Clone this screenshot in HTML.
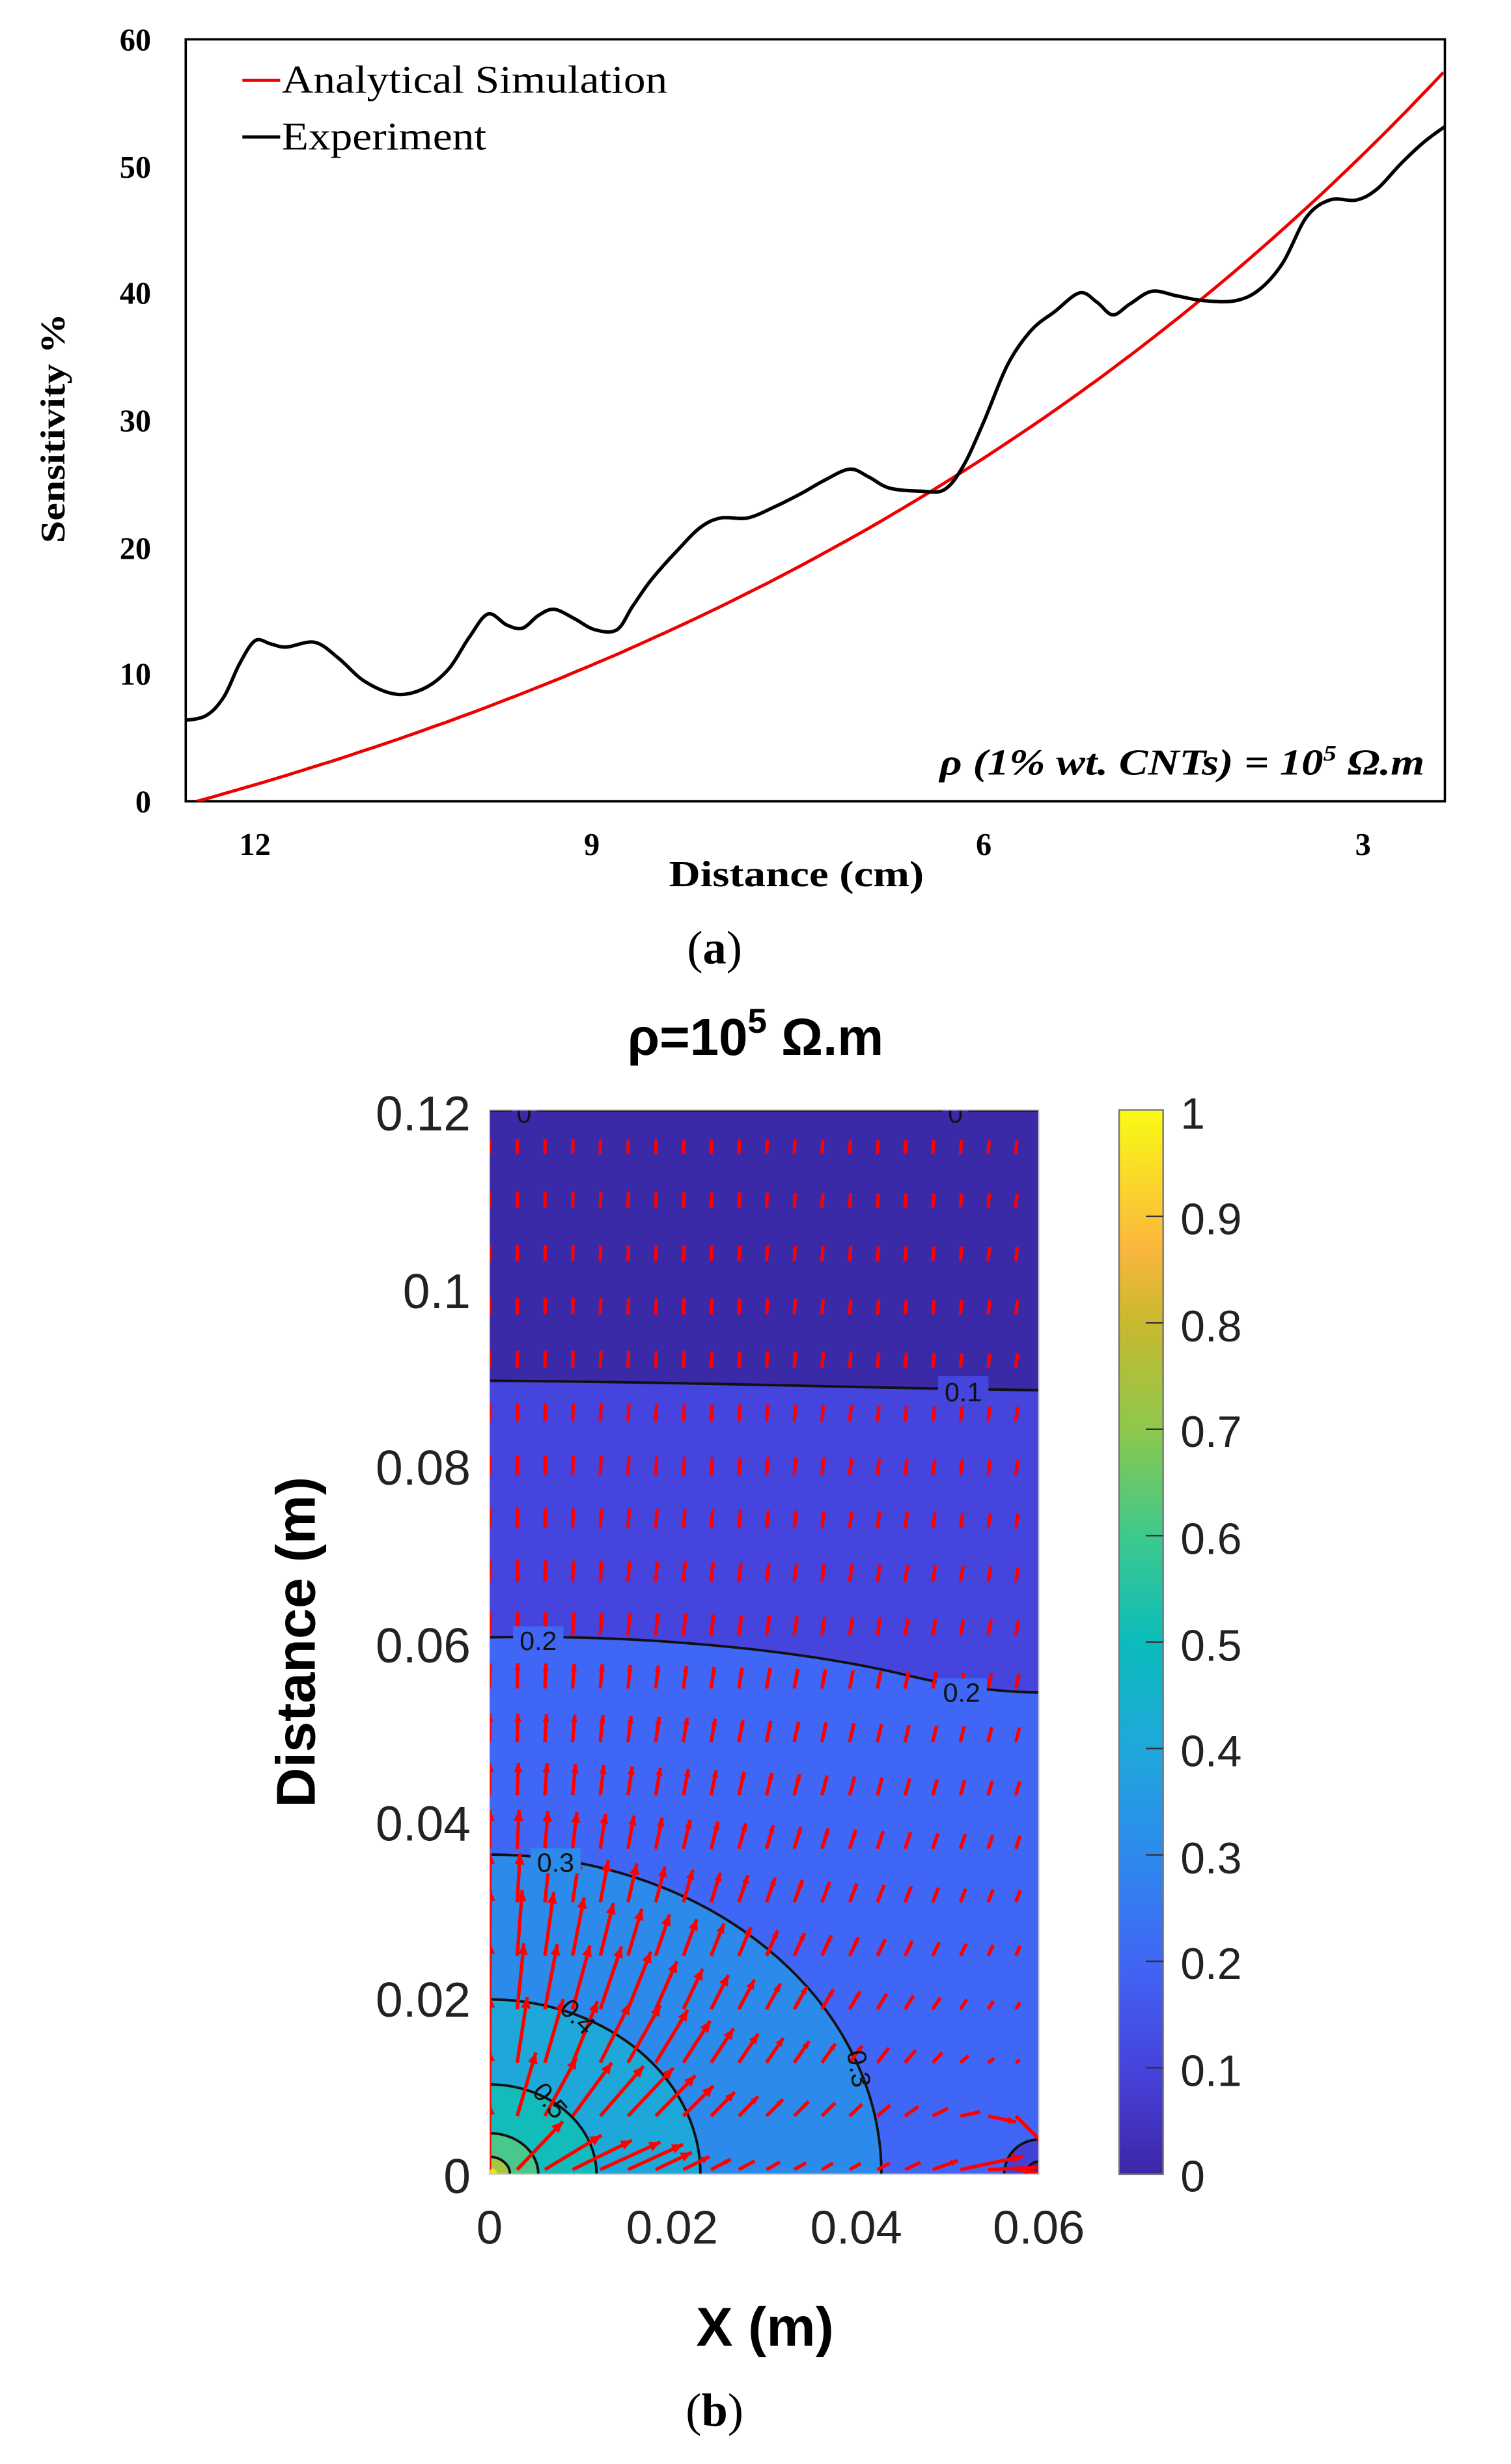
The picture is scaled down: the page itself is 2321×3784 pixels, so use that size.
<!DOCTYPE html>
<html><head><meta charset="utf-8">
<style>html,body{margin:0;padding:0;background:#fff}svg{display:block}</style>
</head><body>
<svg id="s" xmlns="http://www.w3.org/2000/svg" width="2321" height="3784" viewBox="0 0 960 1565.1" preserveAspectRatio="none">
<defs>
<linearGradient id="cb" x1="0" y1="1" x2="0" y2="0">
<stop offset="0" stop-color="#3e26a8"/><stop offset="0.1" stop-color="#4643dd"/><stop offset="0.2" stop-color="#4066f5"/>
<stop offset="0.3" stop-color="#2d8aee"/><stop offset="0.4" stop-color="#1fa8db"/><stop offset="0.5" stop-color="#0bbcbc"/>
<stop offset="0.6" stop-color="#3ec98c"/><stop offset="0.7" stop-color="#8ec84c"/><stop offset="0.8" stop-color="#c8b92e"/>
<stop offset="0.87" stop-color="#fbb63e"/><stop offset="1" stop-color="#f9fb15"/>
</linearGradient>
<clipPath id="pc"><rect x="311" y="705" width="349" height="676"/></clipPath>
<clipPath id="tc"><rect x="118" y="25" width="800" height="484"/></clipPath>
</defs>
<g font-family="Liberation Serif, serif">
<rect x="118" y="25" width="800" height="484" fill="none" stroke="#000" stroke-width="1.5"/>
<g font-weight="bold" font-size="20" text-anchor="end">
<text x="96" y="32">60</text><text x="96" y="113">50</text><text x="96" y="193">40</text><text x="96" y="274">30</text>
<text x="96" y="355">20</text><text x="96" y="435">10</text><text x="96" y="516">0</text>
</g>
<g font-weight="bold" font-size="20" text-anchor="middle">
<text x="162" y="543">12</text><text x="376" y="543">9</text><text x="625" y="543">6</text><text x="866" y="543">3</text>
</g>
<text x="425" y="563" font-weight="bold" font-size="23" textLength="162" lengthAdjust="spacingAndGlyphs">Distance (cm)</text>
<text transform="translate(41,345) rotate(-90)" font-weight="bold" font-size="22" textLength="146" lengthAdjust="spacingAndGlyphs">Sensitivity %</text>
<line x1="154" y1="51" x2="178" y2="51" stroke="#e00" stroke-width="2"/>
<line x1="154" y1="87" x2="178" y2="87" stroke="#000" stroke-width="2"/>
<text x="179" y="59" font-size="25" textLength="245" lengthAdjust="spacingAndGlyphs">Analytical Simulation</text>
<text x="179" y="95" font-size="25" textLength="130" lengthAdjust="spacingAndGlyphs">Experiment</text>
<text x="597" y="492" font-style="italic" font-weight="bold" font-size="23" textLength="308" lengthAdjust="spacingAndGlyphs">ρ (1% wt. CNTs) = 10<tspan font-size="14" dy="-9">5</tspan><tspan dy="9"> Ω.m</tspan></text>
<path id="red" fill="none" stroke="#e00" stroke-width="2" clip-path="url(#tc)"/>
<path id="blk" fill="none" stroke="#000" stroke-width="2.2" clip-path="url(#tc)"/>
<text x="454" y="612" text-anchor="middle" font-size="30">(<tspan font-weight="bold">a</tspan>)</text>
<text x="454" y="1541" text-anchor="middle" font-size="30">(<tspan font-weight="bold">b</tspan>)</text>
</g>
<g font-family="Liberation Sans, Arial, sans-serif">
<text x="480" y="670" text-anchor="middle" font-weight="bold" font-size="33">ρ=10<tspan font-size="22" dy="-14">5</tspan><tspan dy="14"> Ω.m</tspan></text>
<g clip-path="url(#pc)">
<rect x="311" y="705" width="349" height="676" fill="#4066f5"/>
<path d="M311 1040 C420 1038 520 1050 580 1065 C610 1072 640 1075 660 1075 L660 700 L311 700Z" fill="#4544dd"/>
<path d="M311 877 C450 878 560 882 660 883 L660 700 L311 700Z" fill="#3b2aa7"/>
<ellipse cx="311" cy="1381" rx="249" ry="203" fill="#2c8aeb"/>
<ellipse cx="311" cy="1381" rx="134" ry="111" fill="#1ea8da"/>
<ellipse cx="311" cy="1381" rx="68" ry="57" fill="#12bcbb"/>
<ellipse cx="311" cy="1381" rx="31" ry="26" fill="#48c88a"/>
<ellipse cx="311" cy="1381" rx="13" ry="11" fill="#a4c842"/>
<ellipse cx="311" cy="1381" rx="5" ry="4" fill="#f0e020"/>
<g fill="none" stroke="#111" stroke-width="1.6">
<path d="M311 1040 C420 1038 520 1050 580 1065 C610 1072 640 1075 660 1075"/>
<path d="M311 877 C450 878 560 882 660 883"/>
<line x1="311" y1="705" x2="660" y2="705" stroke-width="2.2"/>
<ellipse cx="311" cy="1381" rx="249" ry="203"/>
<ellipse cx="311" cy="1381" rx="134" ry="111"/>
<ellipse cx="311" cy="1381" rx="68" ry="57"/>
<ellipse cx="311" cy="1381" rx="31" ry="26"/>
<ellipse cx="311" cy="1381" rx="13" ry="11"/>
<circle cx="660" cy="1381" r="22" fill="#4340d8"/>
<circle cx="660" cy="1381" r="8" fill="#3a2aa5"/>
</g>
<g id="arr" stroke="#f00" fill="#f00" stroke-width="2.2"></g>
<g font-size="17" fill="#111">
<rect x="325" y="697" width="16" height="16" fill="#3b2aa7"/><text x="333" y="713" text-anchor="middle">0</text>
<rect x="599" y="697" width="16" height="16" fill="#3b2aa7"/><text x="607" y="713" text-anchor="middle">0</text>
<rect x="596" y="874" width="32" height="16" fill="#4544dd"/><text x="612" y="890" text-anchor="middle">0.1</text>
<rect x="326" y="1033" width="32" height="16" fill="#4066f5"/><text x="342" y="1048" text-anchor="middle">0.2</text>
<rect x="595" y="1066" width="32" height="16" fill="#4066f5"/><text x="611" y="1081" text-anchor="middle">0.2</text>
<rect x="337" y="1174" width="32" height="16" fill="#2c8aeb"/><text x="353" y="1189" text-anchor="middle">0.3</text>
<text transform="translate(540,1315) rotate(80)" text-anchor="middle">0.3</text>
<text transform="translate(363,1285) rotate(45)" text-anchor="middle">0.4</text>
<text transform="translate(345,1338) rotate(50)" text-anchor="middle">0.5</text>
</g>
</g>
<rect x="311" y="705" width="349" height="676" fill="none" stroke="#ccc" stroke-width="0.8"/>
<g font-size="31" fill="#222" text-anchor="end">
<text x="299" y="718">0.12</text><text x="299" y="831">0.1</text><text x="299" y="943">0.08</text>
<text x="299" y="1056">0.06</text><text x="299" y="1169">0.04</text><text x="299" y="1281">0.02</text><text x="299" y="1393">0</text>
</g>
<g font-size="30" fill="#222" text-anchor="middle">
<text x="311" y="1425">0</text><text x="427" y="1425">0.02</text><text x="544" y="1425">0.04</text><text x="660" y="1425">0.06</text>
</g>
<text x="486" y="1490" text-anchor="middle" font-weight="bold" font-size="35">X (m)</text>
<text transform="translate(200,1043) rotate(-90)" text-anchor="middle" font-weight="bold" font-size="35">Distance (m)</text>
<rect x="711" y="705" width="28" height="676" fill="url(#cb)" stroke="#777" stroke-width="1"/>
<g id="cbt" stroke="#333" stroke-width="1"></g>
<g font-size="28" fill="#222">
<text x="750" y="717">1</text><text x="750" y="784">0.9</text><text x="750" y="852">0.8</text><text x="750" y="919">0.7</text>
<text x="750" y="987">0.6</text><text x="750" y="1055">0.5</text><text x="750" y="1122">0.4</text><text x="750" y="1190">0.3</text>
<text x="750" y="1257">0.2</text><text x="750" y="1325">0.1</text><text x="750" y="1392">0</text>
</g>
</g>
</svg>
<script>
function cr(p){let d="M"+p[0][0]+" "+p[0][1];for(let i=0;i<p.length-1;i++){const a=p[Math.max(0,i-1)],b=p[i],c=p[i+1],e=p[Math.min(p.length-1,i+2)];d+=" C"+(b[0]+(c[0]-a[0])/6).toFixed(1)+" "+(b[1]+(c[1]-a[1])/6).toFixed(1)+" "+(c[0]-(e[0]-b[0])/6).toFixed(1)+" "+(c[1]-(e[1]-b[1])/6).toFixed(1)+" "+c[0]+" "+c[1];}return d;}
const blk=[[112,458],[130,455],[142,443],[152,422],[162,407],[172,409],[182,411],[200,408],[215,418],[232,433],[252,441],[270,437],[285,425],[298,405],[310,390],[322,397],[332,399],[342,391],[352,387],[365,393],[378,400],[392,400],[402,385],[414,368],[430,350],[445,335],[458,329],[475,329],[492,322],[508,314],[524,305],[540,298],[552,303],[565,310],[585,312],[600,311],[612,296],[625,268],[640,232],[655,210],[670,198],[686,186],[697,192],[707,200],[718,193],[732,185],[748,188],[765,191],[785,191],[800,184],[815,167],[830,138],[845,127],[862,127],[875,120],[890,104],[905,90],[920,79]];
document.getElementById("blk").setAttribute("d",cr(blk));
const red=[];for(let x=125;x<=918;x+=8){const t=(x-125)/793;const s=57.5*(Math.exp(1.35*t)-1)/(Math.exp(1.35)-1);red.push([x,+(509-s*8.07).toFixed(1)]);}
document.getElementById("red").setAttribute("d",cr(red));
let cb="";for(let i=1;i<10;i++){const y=705+i*67.6;cb+=`<line x1="728" y1="${y}" x2="739" y2="${y}"/>`;}
document.getElementById("cbt").innerHTML=cb;
let h="";const A=22,U=0.341*A;
for(let r=0;r<20;r++){const py=733+r*33.95;for(let c=0;c<20;c++){const px=311+c*17.6;
const x=(px-311)/349*6, y=(1381-py)/676*12;
const r1=Math.max(0.3,Math.hypot(x,y));let ex=A*x/(r1*r1), ey=A*(y+0.25)/(r1*r1)+U*Math.min(1,(y+1)/2);
const dx2=x-6,dy2=y,r2=Math.max(0.3,Math.hypot(dx2,dy2));const B=9;ex+=-B*dx2/Math.pow(r2,3);ey+=-B*dy2/Math.pow(r2,3);
const m=Math.hypot(ex,ey);if(m<1e-6)continue;let L=9.4*Math.pow(m/(0.426*A),2.5);L=Math.min(L,42);L=Math.max(L,3);
const ux=ex/m,uy=-ey/m;const x2=px+ux*L,y2=py+uy*L;
h+=`<line x1="${px.toFixed(1)}" y1="${py.toFixed(1)}" x2="${x2.toFixed(1)}" y2="${y2.toFixed(1)}"/>`;
if(L>12){const hs=Math.min(7,L*0.28);const bx=x2-ux*hs,by=y2-uy*hs;h+=`<polygon stroke="none" points="${x2.toFixed(1)},${y2.toFixed(1)} ${(bx-uy*hs*0.45).toFixed(1)},${(by+ux*hs*0.45).toFixed(1)} ${(bx+uy*hs*0.45).toFixed(1)},${(by-ux*hs*0.45).toFixed(1)}"/>`;}
}}
document.getElementById("arr").innerHTML=h;
</script>
</body></html>
